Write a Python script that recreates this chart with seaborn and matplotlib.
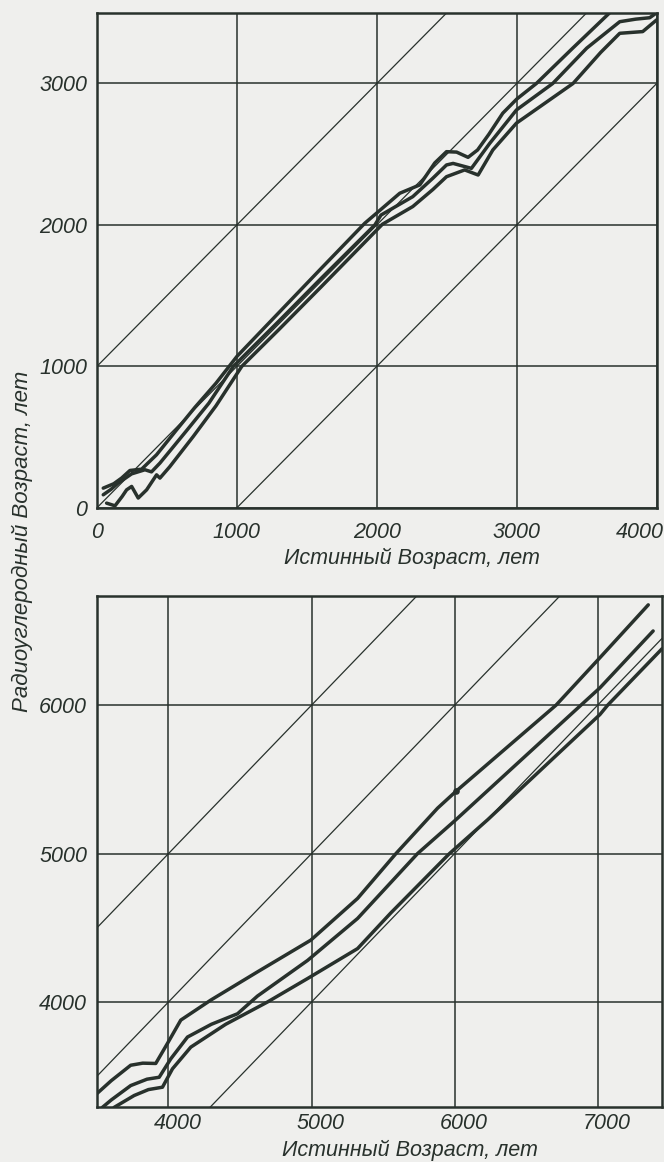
import pandas as pd
import seaborn as sns
import matplotlib.pyplot as plt
from matplotlib.transforms import ScaledTranslation

# --- top panel (0-4000 years) ---
top_upper_x = [45, 120, 176, 236, 319, 426, 569, 700, 850, 1000, 1300, 1600, 1914, 1998, 2164,
               2307, 2414, 2498, 2570, 2652, 2720, 2800, 2900, 3000, 3140, 3400, 3664]
top_upper_y = [139, 170, 210, 264, 273, 375, 551, 710, 880, 1070, 1380, 1690, 2012, 2083, 2224,
               2283, 2438, 2518, 2515, 2478, 2530, 2640, 2790, 2890, 3000, 3250, 3500]

top_mid_x = [45, 100, 152, 248, 343, 390, 450, 640, 800, 975, 1300, 1600, 1986, 2030, 2257,
             2400, 2498, 2545, 2676, 2807, 2998, 3257, 3500, 3736, 3850, 3950, 4000]
top_mid_y = [92, 130, 175, 240, 269, 254, 316, 545, 740, 1000, 1320, 1620, 2000, 2070, 2200,
             2330, 2424, 2435, 2400, 2577, 2813, 3000, 3250, 3437, 3455, 3465, 3500]

top_lower_x = [69, 129, 180, 212, 248, 295, 355, 426, 450, 520, 688, 850, 1035, 1300, 1600,
               2040, 2257, 2400, 2498, 2628, 2724, 2829, 2998, 3200, 3402, 3600, 3736, 3900, 4000]
top_lower_y = [33, 14, 80, 127, 151, 69, 127, 233, 210, 290, 504, 720, 1000, 1260, 1560,
               2005, 2130, 2250, 2341, 2389, 2353, 2530, 2720, 2860, 3000, 3220, 3355, 3367, 3450]

# --- bottom panel (3500-7450 years) ---
bot_upper_x = [3500, 3600, 3736, 3820, 3911, 3993, 4086, 4296, 4622, 4995, 5322, 5590,
               5881, 6009, 6709, 7016, 7354]
bot_upper_y = [3383, 3470, 3574, 3588, 3586, 3721, 3878, 4013, 4203, 4417, 4698, 5000,
               5306, 5419, 6000, 6320, 6676]

bot_mid_x = [3538, 3600, 3736, 3850, 3935, 4016, 4133, 4300, 4483, 4622, 4972, 5322,
             5741, 6009, 6883, 7016, 7388]
bot_mid_y = [3290, 3340, 3437, 3480, 3493, 3617, 3764, 3850, 3921, 4040, 4280, 4563,
             5000, 5228, 6000, 6117, 6500]

bot_lower_x = [3620, 3760, 3860, 3958, 4028, 4156, 4400, 4692, 4972, 5322, 5554,
               5964, 6231, 7016, 7070, 7450]
bot_lower_y = [3290, 3370, 3410, 3426, 3550, 3696, 3850, 4000, 4158, 4360, 4600,
               5000, 5228, 5937, 6000, 6380]

diag_offsets = [-1000, 0, 1000]

top_xticks = [0, 1000, 2000, 3000, 4000]
top_yticks = [0, 1000, 2000, 3000]
bot_xticks = [4000, 5000, 6000, 7000]
bot_yticks = [4000, 5000, 6000]

xlabel = "Истинный Возраст, лет"
ylabel = "Радиоуглеродный Возраст, лет"

INK = "#28312c"
PAPER = "#efefed"

rows = []
for panel, band, xs, ys in [
    ("top", "upper", top_upper_x, top_upper_y),
    ("top", "mid", top_mid_x, top_mid_y),
    ("top", "lower", top_lower_x, top_lower_y),
    ("bot", "upper", bot_upper_x, bot_upper_y),
    ("bot", "mid", bot_mid_x, bot_mid_y),
    ("bot", "lower", bot_lower_x, bot_lower_y),
]:
    for i, (x, y) in enumerate(zip(xs, ys)):
        rows.append({"panel": panel, "band": band, "order": i, "x": x, "y": y})
df = pd.DataFrame(rows)

sns.set_style("white")
plt.rcParams['font.family'] = ['Liberation Sans', 'DejaVu Sans']
plt.rcParams['font.style'] = 'italic'

fig = plt.figure(figsize=(6.64, 11.62), dpi=100, facecolor=PAPER)
ax_top = fig.add_axes([0.146, 0.563, 0.843, 0.426])
ax_bot = fig.add_axes([0.146, 0.047, 0.851, 0.440])

setup = [
    (ax_top, "top", (0, 4000), (0, 3500), top_xticks, top_yticks),
    (ax_bot, "bot", (3500, 7450), (3290, 6735), bot_xticks, bot_yticks),
]

for ax, panel, xlim, ylim, xt, yt in setup:
    ax.set_facecolor(PAPER)
    for off in diag_offsets:
        ax.axline((0, off), slope=1, color=INK, lw=0.9, zorder=2)
    sns.lineplot(data=df[df.panel == panel], x="x", y="y", units="band",
                 estimator=None, sort=False, color=INK, lw=2.5, ax=ax, zorder=3,
                 solid_joinstyle="round", solid_capstyle="round")
    ax.set_xlim(*xlim)
    ax.set_ylim(*ylim)
    ax.set_xticks(xt)
    ax.set_yticks(yt)
    ax.set_xticklabels([str(t) for t in xt])
    ax.set_yticklabels([str(t) for t in yt])
    ax.grid(True, color=INK, lw=1.1, zorder=1)
    ax.tick_params(length=0, labelsize=15.5, labelcolor=INK)
    ax.tick_params(axis="y", pad=7)
    for sp in ax.spines.values():
        sp.set_visible(True)
        sp.set_color(INK)
        sp.set_linewidth(1.8)
    ax.set_ylabel("")
    ax.set_xlabel(xlabel, fontsize=15.5, color=INK)
    ax.xaxis.label.set_va("center")

ax_top.tick_params(axis="x", pad=10)
ax_bot.tick_params(axis="x", pad=4)
ax_top.xaxis.set_label_coords(0.5625, -0.103)
ax_bot.xaxis.set_label_coords(0.554, -0.084)

# small nudges of tick labels like the hand-lettered original
lbls = ax_top.get_xticklabels()
lbls[-1].set_transform(lbls[-1].get_transform() + ScaledTranslation(-0.17, 0, fig.dpi_scale_trans))
for lbl in ax_bot.get_xticklabels():
    lbl.set_transform(lbl.get_transform() + ScaledTranslation(0.09, 0, fig.dpi_scale_trans))

ax_bot.scatter([6009], [5419], s=14, color=INK, zorder=4)

fig.text(0.033, 0.534, ylabel, rotation=90, ha="center", va="center",
         fontsize=16, color=INK)

fig.savefig("out.png", dpi=100, facecolor=PAPER)
